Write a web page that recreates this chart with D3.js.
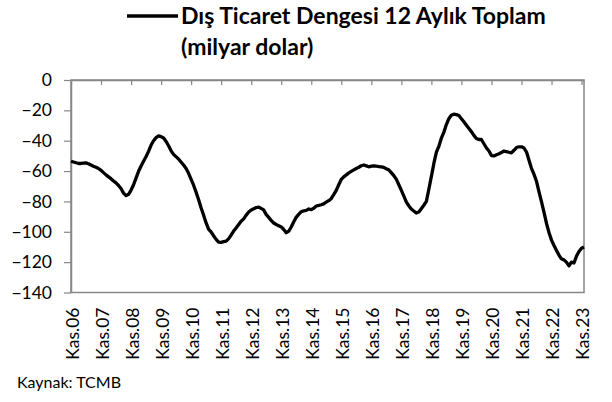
<!DOCTYPE html>
<html>
<head>
<meta charset="utf-8">
<script src="https://cdn.jsdelivr.net/npm/d3@7"></script>
<style>
  body { margin: 0; background: #fff; }
  text { font-family: Lato, "Open Sans", sans-serif; fill: #000; }
</style>
</head>
<body>
<div class="chart"></div>
<script>
// aylik seri, Kas.06'dan baslayarak (milyar dolar)
const startMonth = new Date(2006, 10, 1);
const balance = [
  -53.5, -54, -54.5, -55, -55, -54.8, -54.6, -55.2, -56, -56.8, -57.5, -58.3,
  -59.5, -61, -62.5, -63.8, -65, -66.5, -67.8, -69.5, -71.5, -74.5, -76.2, -75.3,
  -72.5, -69, -64.5, -60, -56.8, -53.5, -50.6, -47, -43, -40, -38, -36.8,
  -37.3, -38.2, -40.5, -43.5, -46.5, -49, -50.5, -52, -54, -56, -58.3, -61.5,
  -65.5, -69.3, -74, -79, -84, -89, -94, -98.2, -100, -102.6, -105, -106.8,
  -107, -106.5, -106.2, -104.5, -102.2, -99.5, -97.5, -95.2, -93, -91.5, -89, -87,
  -85.6, -84.8, -84, -83.7, -84.6, -85.6, -88.5, -90.5, -92.5, -94.2, -95.2, -96,
  -96.8, -98.5, -100.6, -99.5, -97, -93.5, -90.5, -88.5, -86.8, -86.2, -85.9, -85,
  -85.4, -84.5, -83, -82.6, -82.2, -81.6, -80.5, -79.5, -78.2, -75.5, -72.7, -69,
  -65.5, -63.8, -62.5, -61.2, -60.2, -59.2, -58.3, -57.5, -56.5, -56, -56.6, -57.2,
  -56.8, -56.5, -56.8, -57, -57.2, -57.6, -58.5, -59.2, -61, -63, -65.5, -69,
  -72.7, -76.5, -80.4, -83, -85, -86.3, -87.6, -87, -84.8, -82.5, -80, -72,
  -63.5, -55, -47.5, -43.5, -38.5, -34.5, -29.5, -25.5, -23.2, -22.5, -22.8, -23.4,
  -25.5, -27.5, -29.8, -32, -34, -36.5, -38.5, -39.2, -39.2, -42, -44.8, -46.8,
  -49.8, -50, -49.2, -48.6, -47.8, -46.8, -47.2, -47.6, -48, -46.3, -44.5, -44,
  -44, -44.8, -47.5, -53, -58, -62, -66.5, -73.5, -80, -87, -94.5, -100.5,
  -105.5, -109, -112.3, -115.5, -117.8, -118.5, -120, -122.5, -120, -120.6, -116, -113, -110.8, -110
];
const xLabels = ['Kas.06','Kas.07','Kas.08','Kas.09','Kas.10','Kas.11','Kas.12','Kas.13','Kas.14',
                 'Kas.15','Kas.16','Kas.17','Kas.18','Kas.19','Kas.20','Kas.21','Kas.22','Kas.23'];
const yTicks = [0, -20, -40, -60, -80, -100, -120, -140];
const seriesName = 'Dış Ticaret Dengesi 12 Aylık Toplam';
const unitText = '(milyar dolar)';
const sourceText = 'Kaynak: TCMB';

const data = balance.map((v, i) => ({date: d3.timeMonth.offset(startMonth, i), value: v}));

const width = 612, height = 402;
const margin = {top: 80, right: 28, bottom: 109.5, left: 71};
const axisColor = '#878787';

const svg = d3.select('.chart').append('svg')
  .attr('width', width).attr('height', height);

const x = d3.scaleTime()
  .domain([data[0].date, data[data.length - 1].date])
  .range([margin.left, width - margin.right]);
const y = d3.scaleLinear()
  .domain([-140, 0])
  .range([height - margin.bottom, margin.top]);

const labelDates = xLabels.map((d, i) => d3.timeMonth.offset(startMonth, i * 12));

// plot frame
svg.append('rect')
  .attr('x', margin.left).attr('y', margin.top)
  .attr('width', width - margin.right - margin.left)
  .attr('height', height - margin.bottom - margin.top)
  .attr('fill', 'none').attr('stroke', axisColor).attr('stroke-width', 1.5);

// x axis on the zero line, ticks pointing down
const xAxisTop = svg.append('g')
  .attr('transform', `translate(0,${y(0)})`)
  .call(d3.axisBottom(x).tickValues(labelDates).tickSizeInner(5).tickSizeOuter(0).tickFormat(''));
xAxisTop.select('.domain').attr('stroke', axisColor).attr('stroke-width', 1.5);
xAxisTop.selectAll('.tick line').attr('stroke', axisColor).attr('stroke-width', 1.2);

// rotated category labels below the plot
svg.append('g').selectAll('text')
  .data(labelDates)
  .join('text')
  .attr('transform', d => `translate(${x(d)},${y(-140) + 15}) rotate(-90)`)
  .attr('text-anchor', 'end')
  .attr('dy', '0.45em')
  .style('font-size', '17.5px')
  .text((d, i) => xLabels[i]);

// y axis
const yAxis = svg.append('g')
  .attr('transform', `translate(${margin.left},0)`)
  .call(d3.axisLeft(y).tickValues(yTicks).tickSizeInner(7).tickSizeOuter(0).tickPadding(12));
yAxis.select('.domain').attr('stroke', axisColor).attr('stroke-width', 1.5);
yAxis.selectAll('.tick line').attr('stroke', axisColor).attr('stroke-width', 1.2);
yAxis.selectAll('text')
  .style('font-size', '17.5px').style('font-family', 'Lato').attr('fill', '#000');

// series
const line = d3.line()
  .x(d => x(d.date))
  .y(d => y(d.value));
svg.append('path')
  .datum(data)
  .attr('d', line)
  .attr('fill', 'none')
  .attr('stroke', '#000')
  .attr('stroke-width', 3.3)
  .attr('stroke-linejoin', 'round');

// legend / title
const legend = svg.append('g').attr('class', 'legend');
legend.append('line')
  .attr('x1', 127).attr('x2', 178).attr('y1', 16).attr('y2', 16)
  .attr('stroke', '#000').attr('stroke-width', 3.3);
legend.append('text')
  .attr('x', 181).attr('y', 24)
  .style('font-size', '23px').style('font-weight', 'bold')
  .text(seriesName);
legend.append('text')
  .attr('x', 181).attr('y', 55)
  .style('font-size', '23px').style('font-weight', 'bold')
  .text(unitText);

svg.append('text')
  .attr('x', 17).attr('y', 388)
  .style('font-size', '16px')
  .text(sourceText);
</script>
</body>
</html>
